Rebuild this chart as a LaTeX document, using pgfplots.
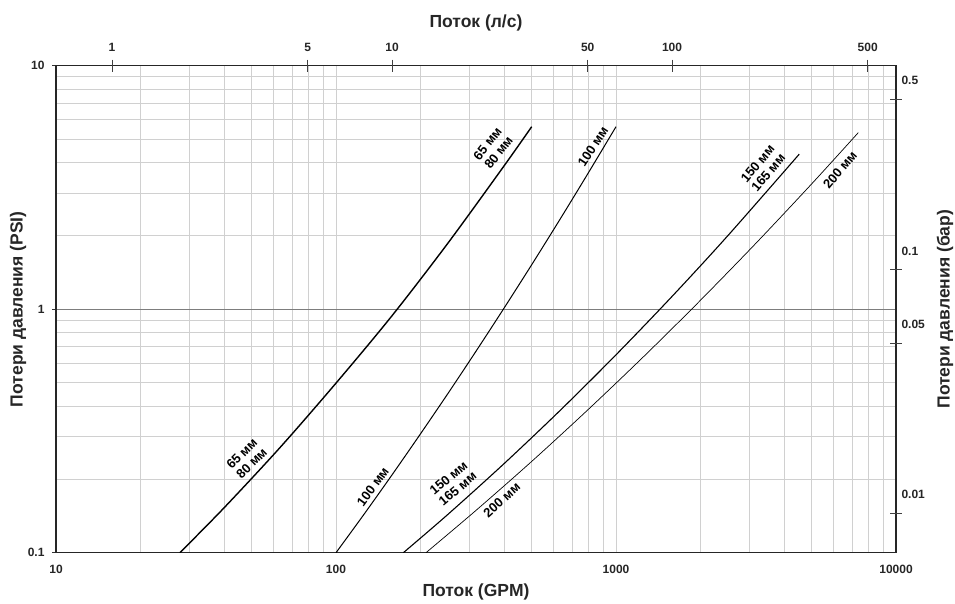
\documentclass[border=0pt]{standalone}
\usepackage{fontspec}
\setmainfont{Liberation Sans}
\usepackage{pgfplots}
\pgfplotsset{compat=1.18}
\definecolor{gridminor}{RGB}{208,208,208}
\definecolor{gridmajor}{RGB}{125,125,125}
\newcommand{\tfont}{\bfseries\fontsize{12}{12}\selectfont}
\newcommand{\cfont}{\bfseries\fontsize{13}{14}\selectfont}
\newcommand{\lfont}{\bfseries\fontsize{17.5}{17.5}\selectfont}
\begin{document}
\begin{tikzpicture}
  % main axis: GPM / PSI
  \begin{axis}[
      at={(56pt,50.3pt)}, anchor=south west,
      width=840pt, height=487pt, scale only axis,
      xmode=log, ymode=log,
      xmin=10, xmax=10000, ymin=0.1, ymax=10,
      xtick={10,100,1000,10000}, xticklabels={10,100,1000,10000},
      ytick={0.1,1,10}, yticklabels={0.1,1,10},
      minor xtick={20,30,40,50,60,70,80,90,200,300,400,500,600,700,800,900,2000,3000,4000,5000,6000,7000,8000,9000},
      minor ytick={0.2,0.3,0.4,0.5,0.6,0.7,0.8,0.9,2,3,4,5,6,7,8,9},
      grid=both,
      minor grid style={gridminor, line width=0.9pt},
      major x grid style={gridminor, line width=0.9pt},
      major y grid style={gridmajor, line width=0.9pt},
      axis line style={line width=1.5pt, black!85},
      xtick pos=left, ytick pos=left,
      tick align=outside, major tick length=4pt, minor tick length=0pt,
      xtick style={draw=none}, ytick style={black!80, line width=0.8pt},
      tick label style={font=\tfont, text=black!85},
      xticklabel style={yshift=-5pt},
      yticklabel style={xshift=-4pt},
      xlabel={Поток (GPM)}, ylabel={Потери давления (PSI)},
      label style={font=\lfont, text=black!85},
      xlabel style={at={(axis description cs:0.5,-0.0807)}, anchor=center},
      ylabel style={at={(axis description cs:-0.0452,0.5)}, anchor=center},
    ]
    % 65 / 80 mm
    \addplot[black, line width=1.4pt, smooth] coordinates {
      (27.7,0.1) (39.8,0.1527) (63.1,0.2703) (100,0.4971)
      (158.5,0.9400) (251.2,1.870) (398.1,3.875) (500,5.619)
    };
    % 100 mm
    \addplot[black, line width=1.0pt, smooth] coordinates {
      (100,0.1) (125.9,0.1438) (158.5,0.2087) (199.5,0.3055) (251.2,0.4511)
      (316.2,0.6720) (398.1,1.0095) (501.2,1.530) (631.0,2.340) (794.3,3.610) (1000,5.617)
    };
    % 150 / 165 mm
    \addplot[black, line width=1.1pt, smooth] coordinates {
      (174,0.1) (251.2,0.1438) (398.1,0.2320) (631.0,0.3836) (1000,0.6497)
      (1585,1.128) (2512,2.008) (4515,4.335)
    };
    % 200 mm
    \addplot[black, line width=0.7pt, smooth] coordinates {
      (209.6,0.1) (316.2,0.1492) (501.2,0.2377) (794.3,0.3866) (1259,0.6410)
      (1995,1.083) (3162,1.867) (5012,3.282) (7335,5.311)
    };

    \node[font=\cfont, rotate=52, align=center] at (axis cs:363.7,4.59) {65 мм\\80 мм};
    \node[font=\cfont, rotate=45, align=center] at (axis cs:48,0.244) {65 мм\\80 мм};
    \node[font=\cfont, rotate=57] at (axis cs:828,4.65) {100 мм};
    \node[font=\cfont, rotate=54] at (axis cs:135.5,0.1866) {100 мм};
    \node[font=\cfont, rotate=50, align=center] at (axis cs:3350,3.80) {150 мм\\165 мм};
    \node[font=\cfont, rotate=40, align=center] at (axis cs:262,0.193) {150 мм\\165 мм};
    \node[font=\cfont, rotate=50] at (axis cs:6310,3.73) {200 мм};
    \node[font=\cfont, rotate=42] at (axis cs:391,0.1646) {200 мм};
  \end{axis}

  % secondary axis: l/s and bar
  \begin{axis}[
      at={(56pt,50.3pt)}, anchor=south west,
      width=840pt, height=487pt, scale only axis,
      xmode=log, ymode=log,
      xmin=0.630902, xmax=630.902, ymin=0.00689476, ymax=0.689476,
      axis x line*=top, axis y line*=right,
      axis line style={draw=none},
      xtick={1,5,10,50,100,500}, xticklabels={1,5,10,50,100,500},
      ytick={0.01,0.05,0.1,0.5}, yticklabels={0.01,0.05,0.1,0.5},
      minor xtick={}, minor ytick={},
      tick align=center, major tick length=12pt, minor tick length=0pt,
      tick style={black!75, line width=0.8pt},
      tick label style={font=\tfont, text=black!85},
      xticklabel style={yshift=5pt},
      yticklabel style={anchor=west, xshift=-4pt, yshift=19pt},
      xlabel={Поток (л/с)}, ylabel={Потери давления (бар)},
      label style={font=\lfont, text=black!85},
      xlabel style={at={(axis description cs:0.5,1.0877)}, anchor=center},
      ylabel style={at={(axis description cs:1.0583,0.5)}, anchor=center},
    ]
    \addplot[draw=none] coordinates {(1,0.01)};
  \end{axis}
  \pgfresetboundingbox
  \path[use as bounding box] (0,0) rectangle (955pt,603pt);
\end{tikzpicture}
\end{document}
